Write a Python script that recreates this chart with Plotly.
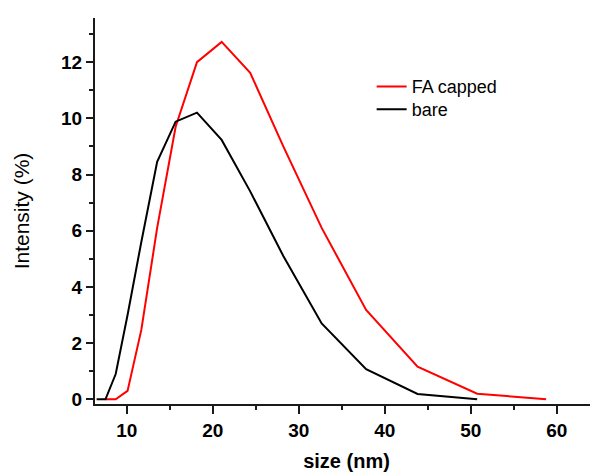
import plotly.graph_objects as go

# DLS size bins (nm)
size_fa = [7.531, 8.721, 10.1, 11.7, 13.54, 15.69, 18.17, 21.04, 24.36, 28.21, 32.67, 37.84, 43.82, 50.75, 58.77]
int_fa = [0.0, 0.0, 0.3, 2.47, 6.1, 9.7, 12.0, 12.72, 11.62, 9.0, 6.1, 3.18, 1.16, 0.2, 0.0]

size_bare = [6.503, 7.531, 8.721, 10.1, 11.7, 13.54, 15.69, 18.17, 21.04, 24.36, 28.21, 32.67, 37.84, 43.82, 50.75]
int_bare = [0.0, 0.0, 0.9, 3.0, 5.6, 8.45, 9.88, 10.2, 9.23, 7.4, 5.1, 2.7, 1.07, 0.19, 0.0]

series_names = ["FA capped", "bare"]

FONT = "Liberation Sans, Arial, sans-serif"
AX = "#1a1a1a"

fig = go.Figure()
fig.add_trace(go.Scatter(x=size_fa, y=int_fa, mode="lines", name=series_names[0],
                         line=dict(color="#ff0000", width=2), legend="legend"))
fig.add_trace(go.Scatter(x=size_bare, y=int_bare, mode="lines", name=series_names[1],
                         line=dict(color="#000000", width=2), legend="legend2"))

leg_common = dict(xanchor="left", yanchor="top",
                  font=dict(family=FONT, size=18, color="#000"),
                  bgcolor="rgba(0,0,0,0)", borderwidth=0)

fig.update_layout(
    width=590, height=467,
    margin=dict(l=87, r=0, t=10, b=71),
    paper_bgcolor="white", plot_bgcolor="white",
    showlegend=True,
    legend=dict(x=0.550, y=0.870, **leg_common),
    legend2=dict(x=0.550, y=0.811, **leg_common),
    xaxis=dict(
        range=[6.314, 64.8], showgrid=False, zeroline=False,
        showline=True, linecolor=AX, linewidth=2,
        ticks="outside", ticklen=8, tickwidth=1.5, tickcolor=AX,
        tick0=0, dtick=10,
        minor=dict(ticks="outside", ticklen=4, tickwidth=1.5, tickcolor=AX, dtick=5, showgrid=False),
        tickfont=dict(family=FONT, size=19, color="#000", weight="bold"),
        title=dict(text="size (nm)", font=dict(family=FONT, size=20, color="#000", weight="bold"), standoff=14),
    ),
    yaxis=dict(
        range=[-0.167, 13.57], showgrid=False, zeroline=False,
        showline=True, linecolor=AX, linewidth=2,
        ticks="outside", ticklen=7, tickwidth=1.5, tickcolor=AX,
        tick0=0, dtick=2,
        minor=dict(ticks="outside", ticklen=4, tickwidth=1.5, tickcolor=AX, dtick=1, showgrid=False),
        tickfont=dict(family=FONT, size=19, color="#000", weight="bold"),
        title=dict(text="Intensity (%)", font=dict(family=FONT, size=21, color="#000"), standoff=26),
    ),
)

fig.write_html("out.html")
